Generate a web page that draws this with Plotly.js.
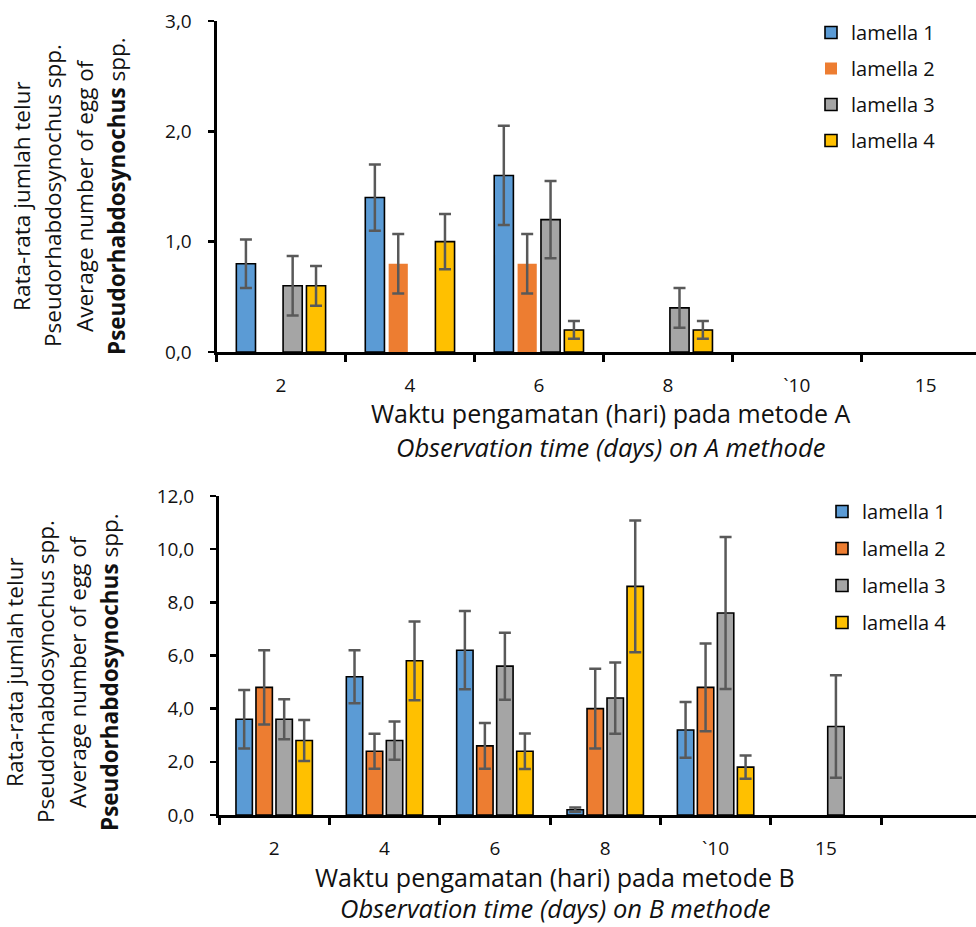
<!DOCTYPE html>
<html>
<head>
<meta charset="utf-8">
<script src="https://cdn.plot.ly/plotly-3.0.1.min.js"></script>
<style>html,body{margin:0;padding:0;background:#fff;overflow:hidden}#chart{width:976px;height:927px}</style>
</head>
<body>
<div id="chart"></div>
<script>
// ---- Data (method A, top chart) ----
const categories = ['2', '4', '6', '8', '`10', '15'];
const seriesNames = ['lamella 1', 'lamella 2', 'lamella 3', 'lamella 4'];

const a_lamella1 = [0.8, 1.4, 1.6, null, null, null];
const a_lamella1_err = [0.22, 0.3, 0.45, null, null, null];
const a_lamella2 = [null, 0.8, 0.8, null, null, null];
const a_lamella2_err = [null, 0.27, 0.27, null, null, null];
const a_lamella3 = [0.6, null, 1.2, 0.4, null, null];
const a_lamella3_err = [0.27, null, 0.35, 0.18, null, null];
const a_lamella4 = [0.6, 1.0, 0.2, 0.2, null, null];
const a_lamella4_err = [0.18, 0.25, 0.08, 0.08, null, null];

// ---- Data (method B, bottom chart) ----
const b_lamella1 = [3.6, 5.2, 6.2, 0.2, 3.2, null];
const b_lamella1_err = [1.1, 1.0, 1.47, 0.08, 1.05, null];
const b_lamella2 = [4.8, 2.4, 2.6, 4.0, 4.8, null];
const b_lamella2_err = [1.4, 0.66, 0.86, 1.5, 1.65, null];
const b_lamella3 = [3.6, 2.8, 5.6, 4.4, 7.6, 3.33];
const b_lamella3_err = [0.75, 0.72, 1.26, 1.34, 2.86, 1.93];
const b_lamella4 = [2.8, 5.8, 2.4, 8.6, 1.8, null];
const b_lamella4_err = [0.77, 1.48, 0.67, 2.48, 0.44, null];

// ---- Text ----
const yTitleLines = ['Rata-rata jumlah telur', 'Pseudorhabdosynochus spp.', 'Average number of egg of', '<b>Pseudorhabdosynochus</b> spp.'];
const xTitleA = ['Waktu pengamatan (hari) pada metode A', '<i>Observation time (days) on A methode</i>'];
const xTitleB = ['Waktu pengamatan (hari) pada metode B', '<i>Observation time (days) on B methode</i>'];

const colors = ['#5B9BD5', '#ED7D31', '#A5A5A5', '#FFC000'];

const W = 976, H = 927;
const px = x => x / W;
const py = y => 1 - y / H;
const FONT = '"Open Sans", "Noto Sans", sans-serif';
const TXT = '#111111';

const aVals = [a_lamella1, a_lamella2, a_lamella3, a_lamella4];
const aErrs = [a_lamella1_err, a_lamella2_err, a_lamella3_err, a_lamella4_err];
const bVals = [b_lamella1, b_lamella2, b_lamella3, b_lamella4];
const bErrs = [b_lamella1_err, b_lamella2_err, b_lamella3_err, b_lamella4_err];

const traces = [];
for (let i = 0; i < 4; i++) {
  traces.push({
    type: 'bar', x: categories, y: aVals[i], name: seriesNames[i],
    xaxis: 'x', yaxis: 'y', legend: 'legend', legendgroup: 'a' + i,
    marker: {color: colors[i], line: {color: '#000', width: i === 1 ? 0 : 1.6}},
    error_y: {type: 'data', array: aErrs[i], visible: true, color: '#595959', thickness: 2.5, width: 6}
  });
}
for (let i = 0; i < 4; i++) {
  traces.push({
    type: 'bar', x: categories, y: bVals[i], name: seriesNames[i],
    xaxis: 'x2', yaxis: 'y2', legend: 'legend2', legendgroup: 'b' + i,
    marker: {color: colors[i], line: {color: '#000', width: 1.6}},
    error_y: {type: 'data', array: bErrs[i], visible: true, color: '#595959', thickness: 2.5, width: 6}
  });
}

const xCommon = {
  type: 'category', tickson: 'boundaries', ticks: 'outside', ticklen: 7, tickwidth: 3, tickcolor: '#000',
  showline: true, linecolor: '#000', linewidth: 3, showgrid: false, zeroline: false,
  tickfont: {family: FONT, size: 19, color: TXT}, ticklabelstandoff: 14, fixedrange: true
};
const yCommon = {
  ticks: 'outside', ticklen: 6, tickwidth: 2.5, tickcolor: '#000', showline: true, linecolor: '#000', linewidth: 3,
  showgrid: false, zeroline: false, tickformat: '.1f', tickfont: {family: FONT, size: 19, color: TXT},
  ticklabelstandoff: 12, fixedrange: true
};

const annotations = [];
const yLineXTop = [22, 53, 85, 117];
const yLineXBot = [14, 45, 77, 109];
yTitleLines.forEach((t, i) => {
  annotations.push({xref: 'paper', yref: 'paper', x: px(yLineXTop[i]), y: py(196), xanchor: 'center', yanchor: 'middle',
    textangle: -90, showarrow: false, text: t, font: {family: FONT, size: 22.5, color: TXT}});
  annotations.push({xref: 'paper', yref: 'paper', x: px(yLineXBot[i]), y: py(672), xanchor: 'center', yanchor: 'middle',
    textangle: -90, showarrow: false, text: t, font: {family: FONT, size: 22.5, color: TXT}});
});
const xTitleSizes = [25, 25.5];
[[xTitleA, 610, [413, 447]], [xTitleB, 555, [877, 908]]].forEach(([lines, cx, ys]) => {
  lines.forEach((t, i) => annotations.push({xref: 'paper', yref: 'paper', x: px(cx), y: py(ys[i]), xanchor: 'center',
    yanchor: 'middle', showarrow: false, text: t, font: {family: FONT, size: xTitleSizes[i], color: TXT}}));
});

const layout = {
  width: W, height: H, margin: {l: 0, r: 0, t: 0, b: 0},
  paper_bgcolor: '#fff', plot_bgcolor: '#fff', separators: ',.',
  barmode: 'group', bargap: 0.275, bargroupgap: 0.18,
  font: {family: FONT, color: TXT},
  showlegend: true,
  xaxis: Object.assign({}, xCommon, {domain: [px(216.5), 1], range: [-0.5, 5.39], anchor: 'y'}),
  yaxis: Object.assign({}, yCommon, {domain: [py(352), py(21)], range: [0, 3], dtick: 1, anchor: 'x'}),
  xaxis2: Object.assign({}, xCommon, {domain: [px(219), 1], range: [-0.5, 6.36], anchor: 'y2'}),
  yaxis2: Object.assign({}, yCommon, {domain: [py(815), py(496)], range: [0, 12], dtick: 2, anchor: 'x2'}),
  legend: {x: px(811), y: py(13), xanchor: 'left', yanchor: 'top', traceorder: 'grouped', tracegroupgap: 7,
    font: {family: FONT, size: 20, color: TXT}, bgcolor: 'rgba(0,0,0,0)'},
  legend2: {x: px(822), y: py(492), xanchor: 'left', yanchor: 'top', traceorder: 'grouped', tracegroupgap: 8,
    font: {family: FONT, size: 20, color: TXT}, bgcolor: 'rgba(0,0,0,0)'},
  annotations: annotations
};

Plotly.newPlot('chart', traces, layout, {staticPlot: true, displayModeBar: false});
</script>
</body>
</html>
